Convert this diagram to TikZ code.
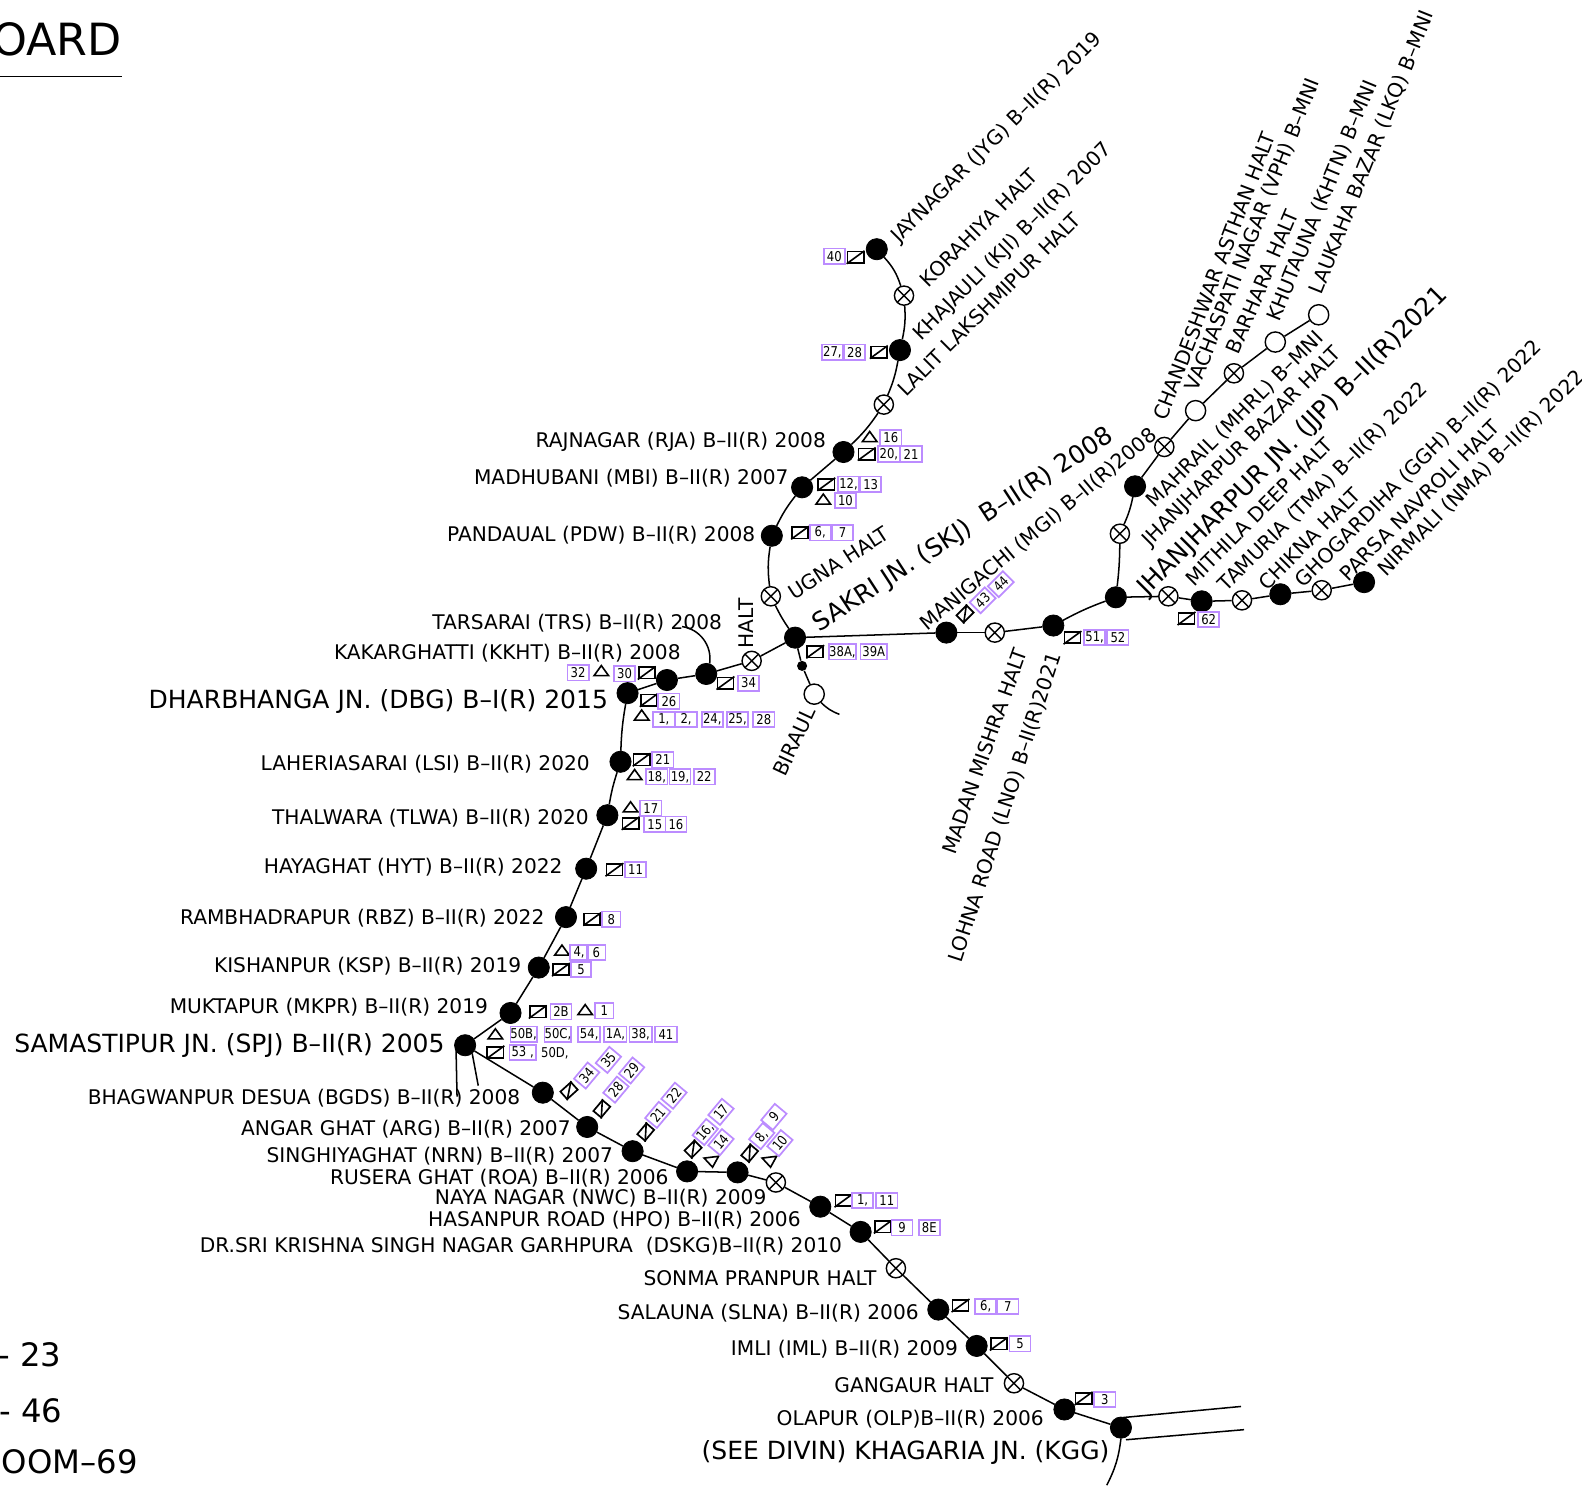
\documentclass[tikz,border=0pt]{standalone}
\usepackage{fontspec}
\setmainfont{DejaVu Sans}
\newfontfamily\numfont{DejaVu Sans}[FakeStretch=0.86]
\usetikzlibrary{shapes.geometric}
\definecolor{boxpurple}{HTML}{BC8CFF}
\newcounter{auton}
\tikzset{
  x=0.5pt,y=-0.5pt,
  track/.style={line width=0.75pt},
  stn/.style={circle,fill=black,draw=black,minimum size=10.5pt,inner sep=0pt},
  open/.style={circle,fill=white,draw=black,line width=0.7pt,minimum size=10pt,inner sep=0pt},
  haltx/.style={circle,fill=white,draw=black,line width=0.7pt,minimum size=9.5pt,inner sep=0pt,
    path picture={\draw[line width=0.7pt] (path picture bounding box.north west)--(path picture bounding box.south east)
      (path picture bounding box.north east)--(path picture bounding box.south west);}},
  sigsq/.style={rectangle,draw=black,line width=0.85pt,minimum width=8pt,minimum height=5.6pt,inner sep=0pt,
    append after command={(\tikzlastnode.south west) edge[line width=0.8pt] (\tikzlastnode.north east)}},
  sigsqr/.style={sigsq,minimum width=7pt,minimum height=5pt},
  sigtri/.style={isosceles triangle,isosceles triangle stretches,shape border rotate=90,draw=black,line width=0.8pt,
    minimum width=7.2pt,minimum height=5pt,inner sep=0pt},
  numbox/.style={rectangle,draw=boxpurple,line width=0.85pt,minimum height=7.6pt,inner sep=0pt,font=\numfont\fontsize{6.7}{7}\selectfont,text=black},
  lab/.style={inner sep=0pt,font=\fontsize{10}{11}\selectfont,text=black},
  labl/.style={inner sep=0pt,font=\fontsize{12.4}{14}\selectfont,text=black},
  plain/.style={inner sep=0pt,font=\numfont\fontsize{6.7}{7}\selectfont,text=black},
  big/.style={inner sep=0pt,font=\fontsize{16}{18}\selectfont,text=black},
  title/.style={inner sep=0pt,font=\fontsize{22}{24}\selectfont,text=black},
}
\newcommand{\Sq}[3]{\stepcounter{auton}\node[sigsq,rotate=#3] (a\arabic{auton}) at (#1,#2) {};}
\newcommand{\Sr}[3]{\stepcounter{auton}\node[sigsqr,rotate=#3] (a\arabic{auton}) at (#1,#2) {};}
\newcommand{\Tr}[3]{\stepcounter{auton}\node[sigtri,rotate=#3] (a\arabic{auton}) at (#1,#2) {};}
\newcommand{\Nb}[5][10.5pt]{\stepcounter{auton}\node[numbox,minimum width=#1,rotate=#4] (a\arabic{auton}) at (#2,#3) {#5};}
\newcommand{\Lr}[4][lab]{\stepcounter{auton}\node[#1,anchor=east,yshift=-0.8pt] (a\arabic{auton}) at (#2,#3) {#4};}
\newcommand{\Lu}[5][lab]{\stepcounter{auton}\node[#1,anchor=west,rotate=#4] (a\arabic{auton}) at (#2,#3) {#5};}
\begin{document}
\begin{tikzpicture}
\useasboundingbox (0,0) rectangle (1568,1472);
\clip (0,0) rectangle (1568,1472);
% stations
\foreach \n/\x/\y in {jyg/869/247,kji/892/347,rja/836/448,mbi/795/483,pdw/765/531,skj/788/632,trs/700/668,kkh/661/674,dbg/622/687,lsi/615/755,tlwa/602/808,hyt/581/861,rbz/561/909,ksp/534/959,mkpr/506/1004,spj/461/1036,bgds/538/1083,arg/582/1117,nrn/627/1141,roa/681/1161,nwc/731/1162,hpo/813/1196,dskg/853/1221,slna/930/1298,iml/968/1334,olp/1055/1397,kgg/1111/1415,mgi/938/627,lno/1044/620,jjp/1106/592,tma/1191/596,ggh/1269/589,nma/1352/577,mhrl/1125/482}
  \node[stn] (\n) at (\x,\y) {};
\foreach \n/\x/\y in {kor/896/293,lal/876/401,ugna/764/591,hlt/745/655,xa/769/1172,sonma/888/1257,gang/1005/1371,madan/986/627,mith/1158/591,chik/1231/595,pars/1310/585,xb/1110/529,chan/1154/443,barh/1223/370}
  \node[haltx] (\n) at (\x,\y) {};
\foreach \n/\x/\y in {vph/1185/407,khut/1264/339,lkq/1307/312,bir/807/688}
  \node[open] (\n) at (\x,\y) {};
\node[circle,fill=black,minimum size=5pt,inner sep=0pt] (bdot) at (795,660) {};
\coordinate (birend) at (832,708);
\coordinate (trsend) at (676,621);
\coordinate (spja) at (452,1040);
\coordinate (spjb) at (453,1087);
\coordinate (spjc) at (468,1044);
\coordinate (spjd) at (474,1076);
\coordinate (ka) at (1113,1405);
\coordinate (kb) at (1230,1394);
\coordinate (kc) at (1116,1427);
\coordinate (kd) at (1233,1417);
\coordinate (ke) at (1097,1472);
% connectors
\draw[track] (jyg) to[bend left=12] (kor);
\draw[track] (kor) to[bend left=8] (kji);
\draw[track] (kji) to[bend left=6] (lal);
\draw[track] (lal) to[bend left=6] (rja);
\draw[track] (rja)--(mbi);
\draw[track] (mbi) to[bend right=6] (pdw);
\draw[track] (pdw) to[bend right=8] (ugna);
\draw[track] (ugna) to[bend right=4] (skj);
\draw[track] (skj)--(hlt);
\draw[track] (hlt)--(trs);
\draw[track] (trs)--(kkh);
\draw[track] (kkh)--(dbg);
\draw[track] (dbg) to[bend right=4] (lsi);
\draw[track] (lsi) to[bend right=4] (tlwa);
\draw[track] (tlwa)--(hyt);
\draw[track] (hyt)--(rbz);
\draw[track] (rbz)--(ksp);
\draw[track] (ksp)--(mkpr);
\draw[track] (mkpr)--(spj);
\draw[track] (spj)--(bgds);
\draw[track] (bgds)--(arg);
\draw[track] (arg)--(nrn);
\draw[track] (nrn)--(roa);
\draw[track] (roa)--(nwc);
\draw[track] (nwc)--(xa);
\draw[track] (xa)--(hpo);
\draw[track] (hpo)--(dskg);
\draw[track] (dskg)--(sonma);
\draw[track] (sonma)--(slna);
\draw[track] (slna)--(iml);
\draw[track] (iml)--(gang);
\draw[track] (gang)--(olp);
\draw[track] (olp)--(kgg);
\draw[track] (skj)--(mgi);
\draw[track] (mgi)--(madan);
\draw[track] (madan)--(lno);
\draw[track] (lno) to[bend left=4] (jjp);
\draw[track] (jjp)--(mith);
\draw[track] (mith)--(tma);
\draw[track] (tma)--(chik);
\draw[track] (chik)--(ggh);
\draw[track] (ggh)--(pars);
\draw[track] (pars)--(nma);
\draw[track] (jjp) to[bend right=3] (xb);
\draw[track] (xb) to[bend right=6] (mhrl);
\draw[track] (mhrl)--(chan);
\draw[track] (chan)--(vph);
\draw[track] (vph)--(barh);
\draw[track] (barh)--(khut);
\draw[track] (khut)--(lkq);
\draw[track] (skj)--(bdot);
\draw[track] (bdot)--(bir);
\draw[track] (bir) to[bend right=12] (birend);
\draw[track] (trs) to[bend right=45] (trsend);
\draw[track] (spja)--(spjb);
\draw[track] (spjc)--(spjd);
\draw[track] (ka)--(kb);
\draw[track] (kc)--(kd);
\draw[track] (kgg.south) to[bend left=10] (ke);
% radial labels
\Lu{887}{238}{45}{JAYNAGAR (JYG) B–II(R) 2019}
\Lu{915}{281}{45}{KORAHIYA HALT}
\Lu{909}{335}{45}{KHAJAULI (KJI) B–II(R) 2007}
\Lu{893}{389}{45}{LALIT LAKSHMIPUR HALT}
\Lu{783}{589}{33}{UGNA HALT}
\Lu[labl]{808}{621}{33}{SAKRI JN. (SKJ)\ \ B–II(R) 2008}
\Lu{915}{621}{40}{MANIGACHI (MGI) B–II(R)2008}
\Lu{1149}{416}{69}{CHANDESHWAR ASTHAN HALT}
\Lu{1181}{387}{68.5}{VACHASPATI NAGAR (VPH) B–MNI}
\Lu{1221}{350}{67}{BARHARA HALT}
\Lu{1262}{318}{67.7}{KHUTAUNA (KHTN) B–MNI}
\Lu{1304}{291}{68.2}{LAUKAHA BAZAR (LKQ) B–MNI}
\Lu{1140}{500}{45}{MAHRAIL (MHRL) B–MNI}
\Lu{1136}{539}{45}{JHANJHARPUR BAZAR HALT}
\Lu[labl]{1132}{587}{45}{JHANJHARPUR JN. (JJP) B–II(R)2021}
\Lu{1178}{577}{45}{MITHILA DEEP HALT}
\Lu{1211}{583}{45}{TAMURIA (TMA) B–II(R) 2022}
\Lu{1251}{581}{45}{CHIKNA HALT}
\Lu{1287}{579}{45}{GHOGARDIHA (GGH) B–II(R) 2022}
\Lu{1331}{572}{45}{PARSA NAVROLI HALT}
\Lu{1369}{568}{45}{NIRMALI (NMA) B–II(R) 2022}
\Lu{740}{643}{90}{HALT}
\Lu{772}{768}{65}{BIRAUL}
\Lu{940}{846}{70.5}{MADAN MISHRA HALT}
\Lu{947}{953}{72}{LOHNA ROAD (LNO) B–II(R)2021}
% left labels
\Lr{819}{436}{RAJNAGAR (RJA) B–II(R) 2008}
\Lr{782}{472}{MADHUBANI (MBI) B–II(R) 2007}
\Lr{749}{529}{PANDAUAL (PDW) B–II(R) 2008}
\Lr{716}{616}{TARSARAI (TRS) B–II(R) 2008}
\Lr{675}{646}{KAKARGHATTI (KKHT) B–II(R) 2008}
\Lr[labl]{603}{694}{DHARBHANGA JN. (DBG) B–I(R) 2015}
\Lr{585}{756}{LAHERIASARAI (LSI) B–II(R) 2020}
\Lr{584}{809}{THALWARA (TLWA) B–II(R) 2020}
\Lr{558}{858}{HAYAGHAT (HYT) B–II(R) 2022}
\Lr{540}{908}{RAMBHADRAPUR (RBZ) B–II(R) 2022}
\Lr{517}{956}{KISHANPUR (KSP) B–II(R) 2019}
\Lr{484}{997}{MUKTAPUR (MKPR) B–II(R) 2019}
\Lr[labl]{441}{1035}{SAMASTIPUR JN. (SPJ) B–II(R) 2005}
\Lr{516}{1087}{BHAGWANPUR DESUA (BGDS) B–II(R) 2008}
\Lr{566}{1118}{ANGAR GHAT (ARG) B–II(R) 2007}
\Lr{608}{1144}{SINGHIYAGHAT (NRN) B–II(R) 2007}
\Lr{663}{1166}{RUSERA GHAT (ROA) B–II(R) 2006}
\Lr{760}{1186}{NAYA NAGAR (NWC) B–II(R) 2009}
\Lr{794}{1208}{HASANPUR ROAD (HPO) B–II(R) 2006}
\Lr{835}{1234}{DR.SRI KRISHNA SINGH NAGAR GARHPURA\ \ (DSKG)B–II(R) 2010}
\Lr{869}{1265}{SONMA PRANPUR HALT}
\Lr{911}{1300}{SALAUNA (SLNA) B–II(R) 2006}
\Lr{950}{1336}{IMLI (IML) B–II(R) 2009}
\Lr{985}{1371}{GANGAUR HALT}
\Lr{1035}{1405}{OLAPUR (OLP)B–II(R) 2006}
\Lr[labl]{1100}{1438}{(SEE DIVIN) KHAGARIA JN. (KGG)}
% title and corner text
\Lr[title]{121}{37}{OARD}
\draw[track] (0,76) -- (121,76);
\Lr[big]{61}{1341}{- 23}
\Lr[big]{62}{1397}{- 46}
\Lr[big]{137}{1447}{OOM–69}
% signals and numbers
\Nb{827}{254}{0}{40}\Sq{848}{255}{0}
\Nb{825}{349}{0}{27,}\Nb{847}{349}{0}{28}\Sq{871}{349}{0}
\Tr{862}{434}{0}\Nb{883}{434}{0}{16}\Sq{859}{450}{0}\Nb{881}{450}{0}{20,}\Nb{903}{450}{0}{21}
\Sq{819}{480}{0}\Nb{841}{480}{0}{12,}\Nb{863}{480}{0}{13}\Tr{816}{496}{0}\Nb{838}{496}{0}{10}
\Sq{793}{528}{0}\Nb{813}{528}{0}{6,}\Nb{835}{528}{0}{7}
\Sq{808}{646}{0}\Nb[13pt]{835}{646}{0}{38A,}\Nb[13pt]{866}{646}{0}{39A}
\Sq{719}{677}{0}\Nb{742}{677}{0}{34}
\Nb{573}{667}{0}{32}\Tr{596}{666}{0}\Nb{619}{668}{0}{30}\Sq{641}{667}{0}
\Sq{643}{694}{0}\Nb{663}{695}{0}{26}
\Tr{636}{710}{0}\Nb{658}{713}{0}{1,}\Nb{680}{713}{0}{2,}\Nb{706}{713}{0}{24,}\Nb{731}{713}{0}{25,}\Nb{757}{713}{0}{28}
\Sq{636}{753}{0}\Nb{657}{753}{0}{21}
\Tr{629}{769}{0}\Nb{651}{770}{0}{18,}\Nb{674}{770}{0}{19,}\Nb{698}{770}{0}{22}
\Tr{625}{801}{0}\Nb{645}{801}{0}{17}\Sq{625}{816}{0}\Nb{649}{817}{0}{15}\Nb{670}{817}{0}{16}
\Sq{609}{862}{0}\Nb{630}{862}{0}{11}
\Sq{587}{911}{0}\Nb[9pt]{606}{911}{0}{8}
\Tr{557}{943}{0}\Nb[9pt]{574}{944}{0}{4,}\Nb[9pt]{591}{944}{0}{6}\Sq{556}{961}{0}\Nb[10pt]{576}{961}{0}{5}
\Sq{533}{1003}{0}\Nb{556}{1003}{0}{2B}\Tr{580}{1002}{0}\Nb[9pt]{599}{1002}{0}{1}
\Tr{491}{1026}{0}\Nb[13pt]{519}{1025}{0}{50B,}\Nb[13pt]{553}{1025}{0}{50C,}\Nb[11pt]{584}{1025}{0}{54,}\Nb[11pt]{610}{1025}{0}{1A,}\Nb[11pt]{635}{1025}{0}{38,}\Nb[11pt]{660}{1025}{0}{41}
\Sq{491}{1043}{0}\Nb[13pt]{518}{1043}{0}{53 ,}
\stepcounter{auton}\node[plain] (a\arabic{auton}) at (550,1044) {50D,};
\Sr{564}{1081}{42}\Nb{581.5}{1066}{50}{34}\Nb{603}{1050.5}{50}{35}
\Sr{596.5}{1099}{50}\Nb{610.5}{1080}{50}{28}\Nb{626}{1061}{50}{29}
\Sr{640}{1122}{50}\Nb{652}{1105}{50}{21}\Nb{668}{1086}{50}{22}
\Sr{687}{1139}{45}\Nb{699}{1122}{50}{16,}\Nb{714.6}{1102}{50}{17}\Tr{705.5}{1150.6}{187}\Nb{714.6}{1132}{50}{14}
\Sr{743}{1143}{50}\Nb{755}{1126}{50}{8,}\Nb{767}{1107}{50}{9}\Tr{763}{1150.6}{187}\Nb{773}{1133}{50}{10}
\Sq{836}{1190}{0}\Nb{855}{1190}{0}{1,}\Nb{879}{1190}{0}{11}
\Sq{875}{1216}{0}\Nb{894}{1217}{0}{9}\Nb{921}{1217}{0}{8E}
\Sq{952}{1294}{0}\Nb{977}{1295}{0}{6,}\Nb{999}{1295}{0}{7}
\Sq{990}{1332}{0}\Nb{1011}{1332}{0}{5}
\Sq{1074}{1386}{0}\Nb{1095}{1387}{0}{3}
\Sq{1063}{632}{0}\Nb{1085}{632}{0}{51,}\Nb{1108}{632}{0}{52}
\Sq{1176}{613}{0}\Nb{1198}{614}{0}{62}
\Sr{956.5}{608.5}{45}\Nb{974}{595}{45}{43}\Nb{992}{579}{45}{44}
\end{tikzpicture}
\end{document}
